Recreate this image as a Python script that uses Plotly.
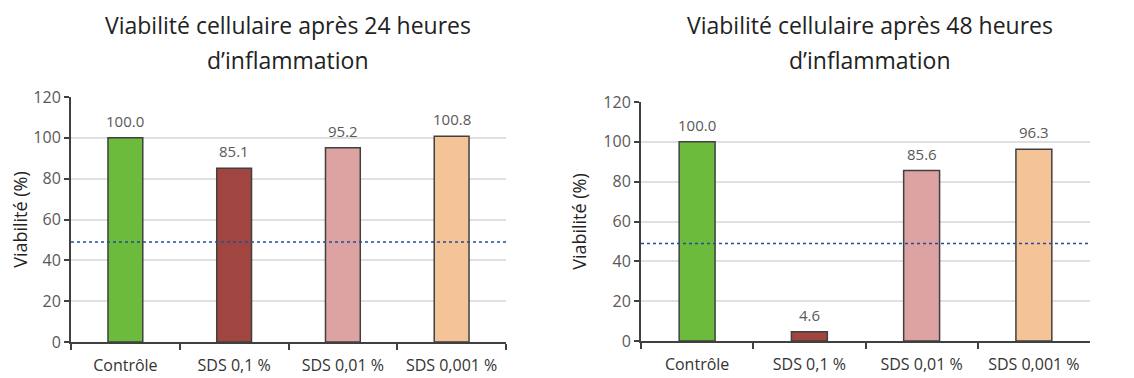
import plotly.graph_objects as go

categories = ["Contrôle", "SDS 0,1 %", "SDS 0,01 %", "SDS 0,001 %"]
viab_24h = [100.0, 85.1, 95.2, 100.8]
viab_48h = [100.0, 4.6, 85.6, 96.3]
threshold = 49
bar_colors = ["#6dbb3c", "#a0453f", "#dca3a2", "#f4c398"]
title_lines = [["Viabilité cellulaire après 24 heures", "d’inflammation"],
               ["Viabilité cellulaire après 48 heures", "d’inflammation"]]
y_ticks = [0, 20, 40, 60, 80, 100, 120]

W, H = 1134, 378
OFF = 8  # page body margin
FONT = "Open Sans, Liberation Sans, sans-serif"


def dx(px):
    return (px - OFF) / W


def dy(px_from_top):
    return 1 - (px_from_top - OFF) / H


fig = go.Figure()
series = [viab_24h, viab_48h]
for i, vals in enumerate(series):
    sfx = "" if i == 0 else str(i + 1)
    fig.add_trace(go.Bar(
        x=categories, y=vals, xaxis="x" + sfx, yaxis="y" + sfx,
        marker=dict(color=bar_colors, line=dict(color="#404040", width=1.5)),
        width=0.32, showlegend=False, hoverinfo="x+y"))
    for c, v in zip(categories, vals):
        fig.add_annotation(x=c, y=v, xref="x" + sfx, yref="y" + sfx, text=f"{v:.1f}",
                           showarrow=False, yshift=17,
                           font=dict(size=15, color="#595959", family=FONT))

axis_common_x = dict(
    type="category", range=[-0.5, 3.5], showline=True, linecolor="#404040", linewidth=2,
    ticks="outside", tickson="boundaries", ticklen=6, tickwidth=2, tickcolor="#404040",
    tickfont=dict(size=16, color="#333333", family=FONT), showgrid=False, fixedrange=True,
    ticklabelstandoff=8, automargin=False)
axis_common_y = dict(
    range=[0, 120], tickvals=y_ticks, showline=True, linecolor="#404040", linewidth=2,
    ticks="outside", ticklen=5, tickwidth=2, tickcolor="#404040",
    tickfont=dict(size=16, color="#595959", family=FONT),
    showgrid=True, gridcolor="#e0e0e0", gridwidth=1.5, zeroline=False, automargin=False,
    title=dict(text="Viabilité (%)", font=dict(size=18, color="#222", family=FONT), standoff=12))

fig.update_layout(
    width=W, height=H, paper_bgcolor="white", plot_bgcolor="white",
    margin=dict(l=0, r=0, t=0, b=0, autoexpand=False),
    xaxis=dict(domain=[dx(71), dx(506)], anchor="y", **axis_common_x),
    yaxis=dict(domain=[dy(342), dy(97)], anchor="x", **axis_common_y),
    xaxis2=dict(domain=[dx(641), dx(1090)], anchor="y2", **axis_common_x),
    yaxis2=dict(domain=[dy(341), dy(102)], anchor="x2", **axis_common_y),
)

for sfx in ["", "2"]:
    fig.add_shape(type="line", xref=f"x{sfx} domain", yref=f"y{sfx}",
                  x0=0, x1=1, y0=threshold, y1=threshold,
                  line=dict(color="#1f4e9a", width=1.5, dash="dot"))

for cx, lines in zip([288, 870], title_lines):
    for ly, txt in zip([25, 60], lines):
        fig.add_annotation(text=txt, x=dx(cx), y=dy(ly), xref="paper", yref="paper",
                           showarrow=False, font=dict(size=23, color="#222", family=FONT),
                           xanchor="center", yanchor="middle")

fig.write_html("out.html")
